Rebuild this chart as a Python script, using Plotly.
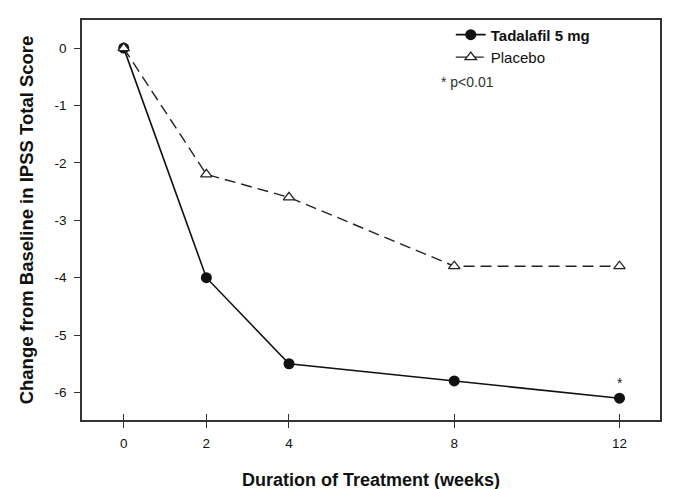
import plotly.graph_objects as go

weeks = [0, 2, 4, 8, 12]
tadalafil = [0.0, -4.0, -5.5, -5.8, -6.1]
placebo = [0.0, -2.2, -2.6, -3.8, -3.8]
x_ticks = [0, 2, 4, 8, 12]
y_ticks = [0, -1, -2, -3, -4, -5, -6]
y_tick_text = ["0", "-1", "-2", "-3", "-4", "-5", "-6"]

font = "Liberation Sans, Arial, sans-serif"

fig = go.Figure()
fig.add_trace(go.Scatter(
    x=weeks, y=tadalafil, mode="lines+markers", name="<b>Tadalafil 5 mg</b>",
    line=dict(color="#111111", width=1.6),
    marker=dict(symbol="circle", size=11, color="#111111"),
))
fig.add_trace(go.Scatter(
    x=weeks, y=placebo, mode="lines+markers", name="Placebo",
    line=dict(color="#222222", width=1.4, dash="11px,6px"),
    marker=dict(symbol="triangle-up", size=10, color="white",
                line=dict(width=1.3, color="#222222")),
))
# Invisible trace on overlay axis to show crossing tick marks
fig.add_trace(go.Scatter(x=weeks, y=tadalafil, xaxis="x2", mode="markers",
                         marker=dict(opacity=0), showlegend=False, hoverinfo="skip"))

fig.add_annotation(x=weeks[-1], y=tadalafil[-1], text="*", showarrow=False,
                   yshift=15, font=dict(size=14, color="#222222", family=font))
fig.add_annotation(xref="paper", yref="paper", x=0.618, y=0.845, xanchor="left",
                   yanchor="middle", text="* p<0.01", showarrow=False,
                   font=dict(size=14, color="#333333", family=font))

fig.update_layout(
    width=675, height=489,
    margin=dict(l=74, r=23, t=10, b=77),
    paper_bgcolor="white", plot_bgcolor="white",
    font=dict(family=font, size=13, color="#111111"),
    showlegend=True,
    legend=dict(x=0.638, y=1.004, xanchor="left", yanchor="top",
                traceorder="normal", bgcolor="rgba(0,0,0,0)",
                font=dict(size=15, family=font), tracegroupgap=0, itemwidth=30),
    xaxis=dict(range=[-1.01, 12.98], tickvals=x_ticks, ticks="outside", ticklen=6,
               tickcolor="#333333", showgrid=False, zeroline=False,
               showline=True, linecolor="#333333", linewidth=1.5, mirror=True,
               ticklabelstandoff=4,
               title=dict(text="<b>Duration of Treatment (weeks)</b>", standoff=23,
                          font=dict(size=18)),
               tickfont=dict(size=13.5, color="#111111")),
    xaxis2=dict(overlaying="x", matches="x", side="bottom", tickvals=x_ticks,
                ticks="inside", ticklen=6, tickcolor="#333333", showticklabels=False,
                showgrid=False, zeroline=False, showline=False),
    yaxis=dict(range=[-6.48, 0.49], tickvals=y_ticks, ticktext=y_tick_text,
               ticks="outside", ticklen=6, ticklabelstandoff=5,
               tickcolor="#333333", showgrid=False, zeroline=False,
               showline=True, linecolor="#333333", linewidth=1.5, mirror=True,
               title=dict(text="<b>Change from Baseline in IPSS Total Score</b>", standoff=16,
                          font=dict(size=18.5)),
               tickfont=dict(size=13.5, color="#111111")),
)

fig.write_html("out.html")
